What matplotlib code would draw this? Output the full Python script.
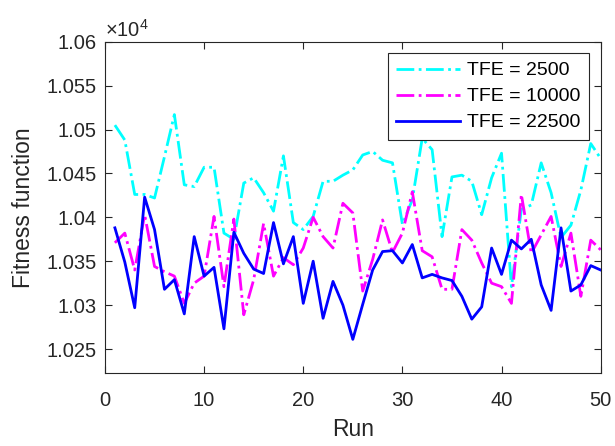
import matplotlib
matplotlib.use("Agg")
import matplotlib.pyplot as plt
from matplotlib.ticker import FuncFormatter
import numpy as np

plt.rcParams['font.family'] = ['Liberation Sans', 'DejaVu Sans']
plt.rcParams['mathtext.fontset'] = 'custom'
plt.rcParams['mathtext.rm'] = 'Liberation Sans'

# Data (fitness values, in units of 1e4)

runs = np.arange(1, 51)

tfe_2500 = [1.0505, 1.0488, 1.0426, 1.0426, 1.0422, 1.0469, 1.0517, 1.0437, 1.0435, 1.0457,
            1.0457, 1.0382, 1.0375, 1.0439, 1.0445, 1.0428, 1.0407, 1.0470, 1.0394, 1.0386,
            1.0401, 1.0441, 1.0441, 1.0448, 1.0454, 1.0471, 1.0475, 1.0465, 1.0462, 1.0392,
            1.0420, 1.0490, 1.0477, 1.0378, 1.0446, 1.0448, 1.0441, 1.0403, 1.0445, 1.0473,
            1.0321, 1.0409, 1.0414, 1.0462, 1.0428, 1.0377, 1.0391, 1.0431, 1.0484, 1.0467]

tfe_10000 = [1.0371, 1.0382, 1.0340, 1.0403, 1.0344, 1.0338, 1.0333, 1.0302, 1.0325, 1.0333,
             1.0401, 1.0321, 1.0398, 1.0289, 1.0329, 1.0393, 1.0333, 1.0354, 1.0346, 1.0365,
             1.0400, 1.0378, 1.0365, 1.0416, 1.0405, 1.0316, 1.0352, 1.0397, 1.0360, 1.0382,
             1.0429, 1.0362, 1.0355, 1.0318, 1.0318, 1.0386, 1.0374, 1.0348, 1.0325, 1.0321,
             1.0302, 1.0426, 1.0359, 1.0380, 1.0401, 1.0344, 1.0382, 1.0310, 1.0374, 1.0363]

tfe_22500 = [1.0388, 1.0349, 1.0297, 1.0423, 1.0386, 1.0318, 1.0329, 1.0290, 1.0378, 1.0333,
             1.0343, 1.0273, 1.0383, 1.0359, 1.0341, 1.0336, 1.0394, 1.0347, 1.0378, 1.0302,
             1.0350, 1.0285, 1.0327, 1.0300, 1.0261, 1.0301, 1.0340, 1.0361, 1.0362, 1.0348,
             1.0369, 1.0331, 1.0335, 1.0331, 1.0328, 1.0310, 1.0284, 1.0298, 1.0365, 1.0335,
             1.0374, 1.0364, 1.0375, 1.0323, 1.0294, 1.0388, 1.0316, 1.0323, 1.0345, 1.0340]

scale = 1e4
labels = ["TFE = 2500", "TFE = 10000", "TFE = 22500"]

# Plot

fig = plt.figure(figsize=(6.15, 4.46), dpi=100)
ax = fig.add_axes([0.1707, 0.1643, 0.806, 0.7422])

grey = "#262626"
ax.plot(runs, np.array(tfe_2500) * scale, "-.", color="#00FFFF", lw=2, label=labels[0])
ax.plot(runs, np.array(tfe_10000) * scale, "-.", color="#FF00FF", lw=2, label=labels[1])
ax.plot(runs, np.array(tfe_22500) * scale, "-", color="#0000FF", lw=2, label=labels[2])

ax.set_xlim(0, 50)
ax.set_ylim(1.0223 * scale, 1.06 * scale)
ax.set_xticks(np.arange(0, 51, 10))
ax.set_yticks(np.arange(1.025, 1.0601, 0.005) * scale)
ax.yaxis.set_major_formatter(FuncFormatter(lambda v, p: f"{v / scale:g}"))

ax.tick_params(direction="in", top=True, right=True, length=5, width=0.8,
               colors=grey, labelsize=14.5, labelcolor=grey)
ax.tick_params(axis="x", pad=13)
ax.tick_params(axis="y", pad=6)
for sp in ax.spines.values():
    sp.set_color(grey)
    sp.set_linewidth(0.8)

ax.set_xlabel("Run", fontsize=16.5, color=grey, labelpad=6)
ax.set_ylabel("Fitness function", fontsize=16.5, color=grey, labelpad=8)
ax.text(0.0, 1.003, r"$\times\mathregular{10^{4}}$", transform=ax.transAxes, fontsize=14.5,
        color=grey, va="bottom", ha="left")

leg = ax.legend(loc="upper right", bbox_to_anchor=(0.9764, 0.965), fontsize=14,
                frameon=True, fancybox=False, edgecolor=grey, framealpha=1,
                handlelength=3.25, handletextpad=0.38, borderpad=0.44,
                labelspacing=0.43, borderaxespad=0)
leg.get_frame().set_linewidth(0.8)

fig.savefig("out.png", dpi=100)
